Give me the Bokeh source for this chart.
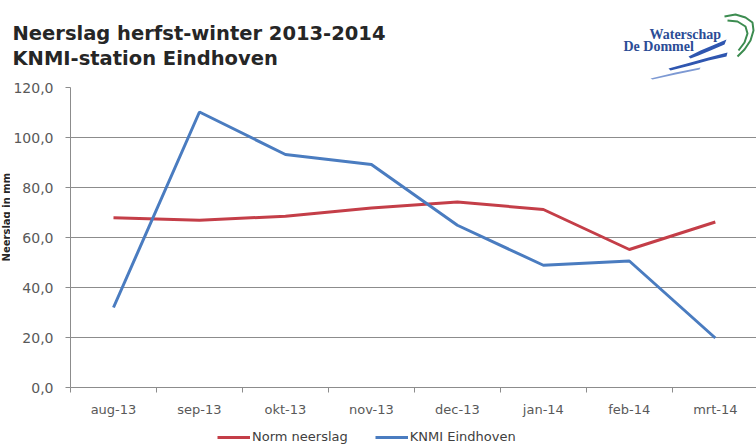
from bokeh.plotting import figure
from bokeh.layouts import column, row
from bokeh.models import FixedTicker, Legend, LegendItem, Range1d
from bokeh.core.properties import value
from bokeh.embed import file_html
from bokeh.resources import INLINE
from math import pi

# ---- data ----
months = ["aug-13", "sep-13", "okt-13", "nov-13", "dec-13", "jan-14", "feb-14", "mrt-14"]
norm_neerslag = [67.9, 66.9, 68.5, 71.8, 74.2, 71.2, 55.2, 66.2]
knmi_eindhoven = [32.0, 110.2, 93.2, 89.2, 64.9, 48.9, 50.6, 19.8]
y_ticks = [0, 20, 40, 60, 80, 100, 120]
y_tick_labels = ["0,0", "20,0", "40,0", "60,0", "80,0", "100,0", "120,0"]
title_lines = ["Neerslag herfst-winter 2013-2014", "KNMI-station  Eindhoven"]
y_label = "Neerslag in mm"
series_names = ["Norm neerslag", "KNMI Eindhoven"]
logo_lines = ["Waterschap", "De Dommel"]

x_idx = list(range(len(months)))

RED = "#c43e48"
BLUE = "#4a7cc0"
GRID = "#8c8c8c"
TXT = "#595959"


def blank(w, h, xr, yr):
    f = figure(width=w, height=h, output_backend="svg", toolbar_location=None,
               x_range=xr, y_range=yr, x_axis_location=None, y_axis_location=None,
               min_border=0)
    f.grid.visible = False
    f.outline_line_color = None
    f.background_fill_color = "white"
    f.border_fill_color = "white"
    return f


# ---- header: title + logo (pixel-like coordinates, y downwards) ----
head = blank(756, 80, Range1d(0, 756), Range1d(80, 0))
head.text(x=[12, 12], y=[33, 57.5], text=title_lines, text_font=value("DejaVu Sans"),
          text_font_style="bold", text_font_size="19.5px", text_color="#262626",
          text_baseline="alphabetic")
head.text(x=[649, 623], y=[34, 45.5], text=logo_lines, text_font=value("Liberation Serif"),
          text_font_style="bold", text_font_size="14px", text_color="#2b4c96",
          text_baseline="alphabetic")
# brush strokes of the logo
head.patches(
    xs=[[688, 700, 712, 726, 724, 710, 698, 690],
        [668, 690, 708, 727, 726, 708, 690, 670],
        [650, 675, 700, 699, 675, 652]],
    ys=[[56, 50, 45, 39, 44, 50, 55, 58],
        [68, 62, 57, 52, 56, 60, 65, 70],
        [78, 72, 67, 69, 74, 79]],
    fill_color=["#2f56b0", "#2f56b0", "#5d7fc8"], fill_alpha=[1, 1, 0.8],
    line_color=None)
head.multi_line(
    xs=[[724, 735, 745, 752, 753, 750, 744, 737],
        [727, 737, 745, 747, 744, 738]],
    ys=[[16, 14, 17, 22, 30, 40, 49, 56],
        [20, 21, 26, 33, 42, 50]],
    line_color="#3c8c50", line_width=2)

# ---- y-axis title strip ----
ylab = blank(10, 347, Range1d(0, 10), Range1d(0, 347))
ylab.text(x=[5.5], y=[197], text=[y_label], angle=pi / 2, text_align="center",
          text_baseline="middle", text_font=value("DejaVu Sans"), text_font_style="bold",
          text_font_size="10px", text_color="#262626")

# ---- main chart ----
p = figure(width=746, height=347, output_backend="svg", toolbar_location=None,
           x_range=Range1d(-0.5, 7.479), y_range=Range1d(0, 120),
           min_border_left=59, min_border_right=0, min_border_top=7,
           min_border_bottom=40)
p.outline_line_color = None
p.background_fill_color = "white"
p.border_fill_color = "white"

xa = p.xaxis[0]
xa.ticker = FixedTicker(ticks=x_idx, minor_ticks=[i - 0.5 for i in range(len(months) + 1)])
xa.major_label_overrides = {i: m for i, m in enumerate(months)}
xa.major_tick_out = 0
xa.major_tick_in = 0
xa.minor_tick_out = 5
xa.minor_tick_in = 0
xa.minor_tick_line_color = GRID
xa.axis_line_color = GRID
xa.major_label_standoff = 9
xa.major_label_text_font = "DejaVu Sans"
xa.major_label_text_font_size = "13px"
xa.major_label_text_color = TXT

ya = p.yaxis[0]
ya.ticker = FixedTicker(ticks=y_ticks)
ya.major_label_overrides = dict(zip(y_ticks, y_tick_labels))
ya.major_tick_out = 5
ya.major_tick_in = 0
ya.minor_tick_line_color = None
ya.major_tick_line_color = GRID
ya.axis_line_color = GRID
ya.major_label_standoff = 12
ya.major_label_text_font = "DejaVu Sans"
ya.major_label_text_font_size = "14px"
ya.major_label_text_color = TXT

p.xgrid.grid_line_color = None
p.ygrid.ticker = FixedTicker(ticks=y_ticks)
p.ygrid.grid_line_color = GRID
p.ygrid.grid_line_width = 1

p.line(x_idx, norm_neerslag, line_color=RED, line_width=3)
p.line(x_idx, knmi_eindhoven, line_color=BLUE, line_width=3)

# ---- legend strip (legend renderers sit outside the visible range) ----
leg = blank(756, 20, Range1d(0, 756), Range1d(0, 20))
l_norm = leg.line(x=[-20, -10], y=[-20, -20], line_color=RED, line_width=3)
l_knmi = leg.line(x=[-20, -10], y=[-20, -20], line_color=BLUE, line_width=3)
legend = Legend(items=[LegendItem(label=series_names[0], renderers=[l_norm]),
                       LegendItem(label=series_names[1], renderers=[l_knmi])],
                orientation="horizontal", location=(217, 3),
                padding=0, margin=0, spacing=27, glyph_width=33, glyph_height=14,
                label_height=14, label_standoff=2,
                label_text_font="DejaVu Sans", label_text_font_size="13px",
                label_text_color="#404040", border_line_color=None,
                background_fill_alpha=0)
leg.add_layout(legend)

layout = column(head, row(ylab, p, spacing=0), leg, spacing=0)
open("out.html", "w").write(file_html(layout, INLINE))
